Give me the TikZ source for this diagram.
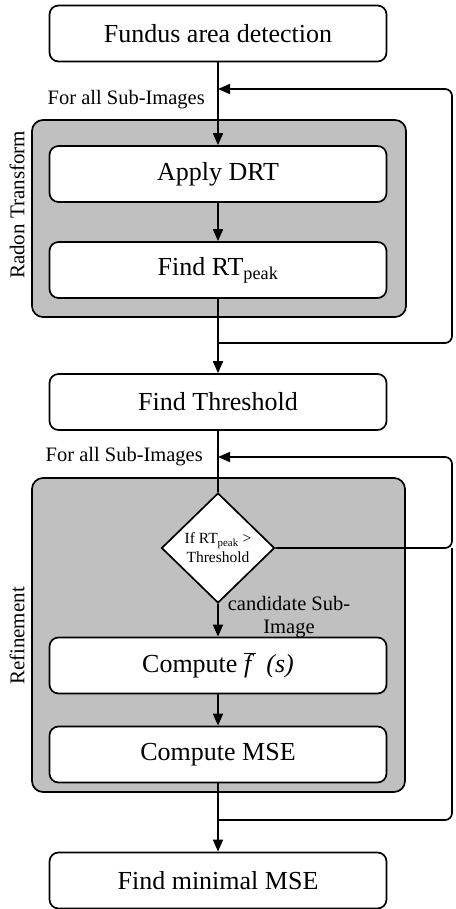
\documentclass[tikz,border=0pt]{standalone}
\usepackage{fontspec}
\setmainfont{Liberation Serif}
\usetikzlibrary{arrows.meta,shapes.geometric}
\definecolor{panelgray}{RGB}{192,192,192}
\tikzset{
 stepbox/.style={draw=black, line width=1.7pt, rounded corners=9pt, fill=white, minimum width=337pt, minimum height=56pt, inner sep=0pt, font=\fontsize{26}{30}\selectfont},
 panel/.style={draw=black, line width=1.7pt, rounded corners=11pt, fill=panelgray, inner sep=0pt},
 conn/.style={line width=1.7pt},
 arr/.style={conn, -{Triangle[length=12pt,width=10pt]}},
 small/.style={font=\fontsize{20.5}{23}\selectfont, inner sep=0pt},
 side/.style={font=\fontsize{21}{24}\selectfont, rotate=90, inner sep=0pt},
 decision/.style={diamond, draw, line width=1.7pt, fill=white, minimum width=113pt, minimum height=110pt, inner sep=0pt, align=center, font=\fontsize{15.5}{19}\selectfont}
}
\begin{document}
\begin{tikzpicture}[x=1pt,y=-1pt]
\useasboundingbox (0,0) rectangle (455,909);
% panels
\node[panel, minimum width=374pt, minimum height=197pt] (radon) at (219,218.5) {};
\node[panel, minimum width=373pt, minimum height=314pt] (refine) at (218.5,635) {};
\node[side] (radonlbl) at (17,205) {Radon Transform};
\node[side] (refinelbl) at (17,636) {Refinement};
% steps
\node[stepbox] (fad) at (218,33.5) {Fundus area detection};
\node[stepbox] (drt) at (218,174) {Apply DRT};
\node[stepbox] (rtp) at (218,270) {Find RT\textsubscript{peak}};
\node[stepbox] (thr) at (218,402) {Find Threshold};
\node[decision] (dec) at (218,548) {If RT\textsubscript{peak} >\\Threshold};
\node[stepbox] (cf) at (218,665.5) {Compute \ensuremath{\overline{\hbox{\itshape f\,}}}\,\textit{ (s)}};
\node[stepbox] (mse) at (218,754.5) {Compute MSE};
\node[stepbox] (minmse) at (218,880.5) {Find minimal MSE};
% labels
\node[small, anchor=east] (lbl1) at (205,100) {For all Sub-Images};
\node[small, anchor=east] (lbl2) at (203,457) {For all Sub-Images};
\node[small, align=center] (cand) at (289,617) {candidate Sub-\\Image};
% junction coordinates
\coordinate (j1) at (218,343);
\coordinate (e1) at (218,89);
\coordinate (e2) at (218,457);
\coordinate (j2) at (218,820);
% connectors
\draw[arr] (fad) -- (drt);
\draw[arr] (drt) -- (rtp);
\draw[arr] (rtp) -- (thr);
\draw[conn] (thr) -- (dec);
\draw[arr] (dec) -- (cf);
\draw[arr] (cf) -- (mse);
\draw[arr] (mse) -- (minmse);
\draw[arr, rounded corners=7pt] (j1) -- (452,343) -- (452,89) -- (e1);
\draw[arr, rounded corners=7pt] (dec.east) -- (452,548) -- (452,457) -- (e2);
\draw[conn, rounded corners=7pt] (j2) -- (452,820) -- (452,548);
\end{tikzpicture}
\end{document}
